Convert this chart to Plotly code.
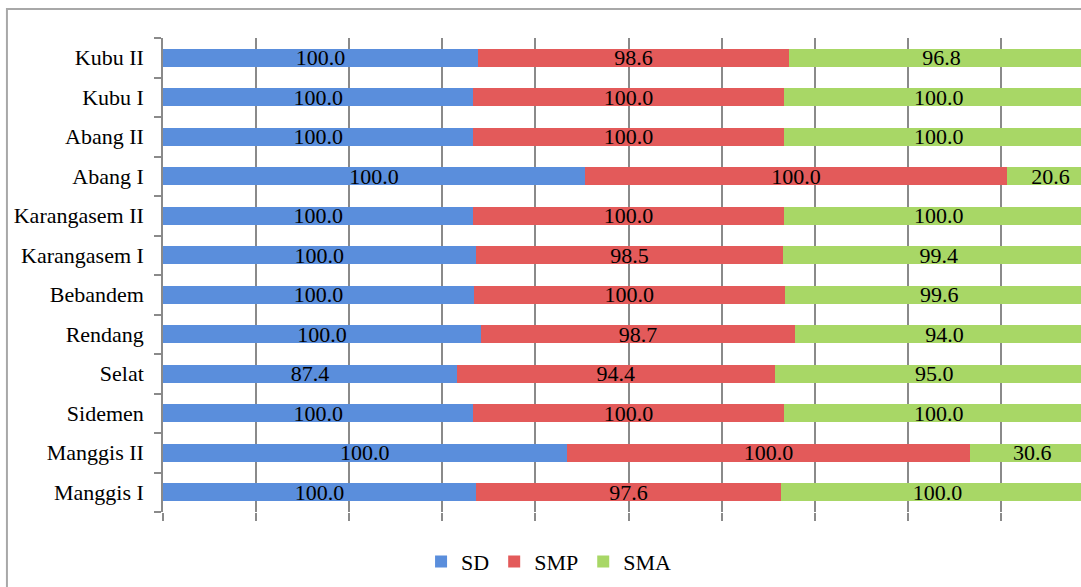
import plotly.graph_objects as go

# categories listed bottom -> top
districts = ["Manggis I", "Manggis II", "Sidemen", "Selat", "Rendang", "Bebandem",
             "Karangasem I", "Karangasem II", "Abang I", "Abang II", "Kubu I", "Kubu II"]
sd = [100.0, 100.0, 100.0, 87.4, 100.0, 100.0, 100.0, 100.0, 100.0, 100.0, 100.0, 100.0]
smp = [97.6, 100.0, 100.0, 94.4, 98.7, 100.0, 98.5, 100.0, 100.0, 100.0, 100.0, 98.6]
sma = [100.0, 30.6, 100.0, 95.0, 94.0, 99.6, 99.4, 100.0, 20.6, 100.0, 100.0, 96.8]

series = [("SD", sd, "#5A8EDC"), ("SMP", smp, "#E35A5A"), ("SMA", sma, "#A8D766")]
font = "Liberation Serif, Times New Roman, serif"

fig = go.Figure()
for name, vals, col in series:
    fig.add_trace(go.Bar(
        y=districts, x=vals, name=name, orientation="h",
        marker=dict(color=col, line=dict(width=0)),
        text=["%.1f" % v for v in vals], textposition="inside",
        insidetextanchor="middle", constraintext="none",
        textfont=dict(family=font, size=22, color="black")))

# plot area in pixels: x 163..1081, y 38..512
fig.add_shape(type="rect", xref="paper", yref="paper",
              x0=-0.170, x1=1.02, y0=-0.2, y1=1.061,
              line=dict(color="#a8a8a8", width=2), fillcolor="rgba(0,0,0,0)")

fig.update_layout(
    width=1081, height=587,
    margin=dict(l=163, r=0, t=38, b=75),
    barmode="stack", barnorm="percent", bargap=0.55,
    plot_bgcolor="white", paper_bgcolor="white",
    font=dict(family=font, size=22, color="black"),
    showlegend=True,
    legend=dict(orientation="h", x=0.42, xanchor="center", y=-0.105, yanchor="middle",
                font=dict(family=font, size=22), itemwidth=30, traceorder="normal"),
    xaxis=dict(range=[0, 98.6], dtick=10, tick0=0, showgrid=True, gridcolor="#8a8a8a",
               gridwidth=1.5, zeroline=False, showline=False, showticklabels=False,
               ticks="outside", ticklen=8, tickcolor="#8a8a8a", tickwidth=1.5),
    yaxis=dict(showline=True, linecolor="#8a8a8a", linewidth=1.5, ticks="outside",
               tickson="boundaries", ticklen=7, tickcolor="#8a8a8a", tickwidth=1.5,
               showgrid=False, ticklabelstandoff=13,
               tickfont=dict(family=font, size=22, color="black")),
)

fig.write_html("out.html", config={"displayModeBar": False},
               post_script="document.body.style.margin='0';document.body.style.overflow='hidden';")
